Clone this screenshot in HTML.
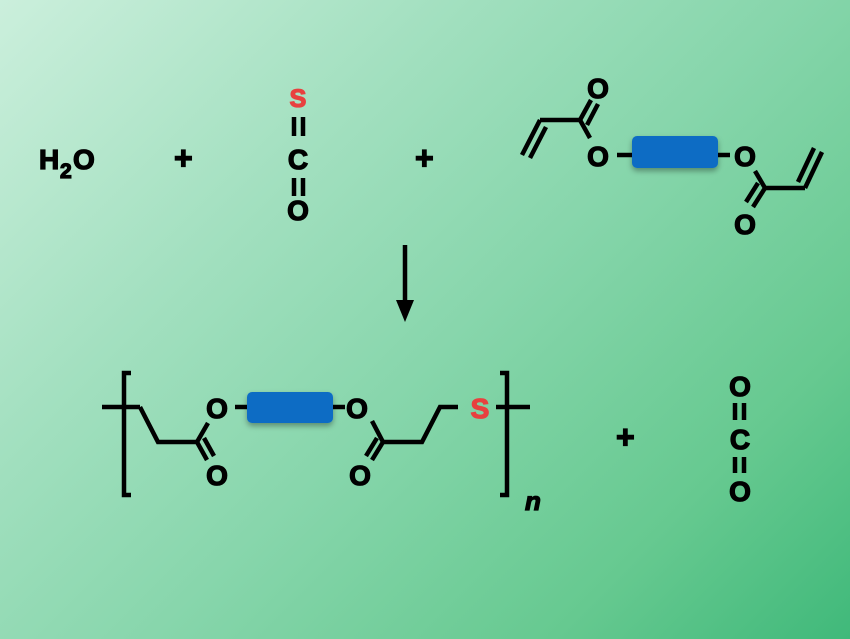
<!DOCTYPE html>
<html><head><meta charset="utf-8"><style>
html,body{margin:0;padding:0}
body{width:850px;height:639px;overflow:hidden;background:linear-gradient(135deg,#cbefdc 0%,#a3e0c0 30%,#85d5aa 55%,#66c990 80%,#40b97a 100%)}
svg{display:block}
text{font-family:"Liberation Sans",sans-serif;font-weight:bold;font-size:28px;fill:#000;stroke:#000;stroke-width:1.3px}
</style></head><body>
<svg width="850" height="639" viewBox="0 0 850 639">
<defs><filter id="sh" x="-20%" y="-30%" width="140%" height="170%"><feDropShadow dx="0" dy="3" stdDeviation="3" flood-opacity="0.35"/></filter></defs>
<g stroke="#000" stroke-width="4.5" fill="none" stroke-linecap="butt">
<line x1="294" y1="117" x2="294" y2="136"/><line x1="303" y1="117" x2="303" y2="136"/>
<line x1="294" y1="178" x2="294" y2="196"/><line x1="303" y1="178" x2="303" y2="196"/>
<line x1="522" y1="155" x2="540" y2="120"/><line x1="530" y1="158" x2="546" y2="127"/>
<line x1="540" y1="120" x2="580" y2="120"/>
<line x1="580" y1="120" x2="591" y2="100"/><line x1="587" y1="125" x2="598" y2="104"/>
<line x1="580" y1="120" x2="590" y2="138"/>
<line x1="617" y1="155" x2="634" y2="155"/>
<line x1="716" y1="155" x2="730" y2="155"/>
<line x1="755" y1="171" x2="765" y2="188"/>
<line x1="765" y1="188" x2="753" y2="207"/><line x1="758" y1="183" x2="746" y2="202"/>
<line x1="765" y1="188" x2="805" y2="188"/>
<line x1="805" y1="188" x2="822" y2="152"/><line x1="798" y1="182" x2="814" y2="148"/>
<line x1="405" y1="245" x2="405" y2="305"/>
<polyline points="131,373 124,373 124,495 131,495"/>
<line x1="102" y1="407" x2="140" y2="407"/>
<polyline points="140,407 158,442 197,442"/>
<line x1="197" y1="442" x2="208" y2="423"/>
<line x1="197" y1="442" x2="207" y2="460"/><line x1="204" y1="438" x2="214" y2="456"/>
<line x1="235" y1="407" x2="249" y2="407"/>
<line x1="331" y1="407" x2="345" y2="407"/>
<line x1="372" y1="421" x2="383" y2="442"/>
<line x1="383" y1="442" x2="372" y2="460"/><line x1="377" y1="438" x2="366" y2="456"/>
<polyline points="383,442 422,442 440,407 458,407"/>
<line x1="496" y1="407" x2="530" y2="407"/>
<polyline points="500,373 507,373 507,495 500,495"/>
<line x1="735" y1="403" x2="735" y2="420"/><line x1="744" y1="403" x2="744" y2="420"/>
<line x1="735" y1="457" x2="735" y2="473"/><line x1="744" y1="457" x2="744" y2="473"/>
</g>
<polygon points="396,300 414,300 405,322" fill="#000"/>
<rect x="632" y="136" width="86" height="32" rx="5" fill="#0b6cc4" filter="url(#sh)"/>
<rect x="247" y="392" width="86" height="31" rx="5" fill="#0b6cc4" filter="url(#sh)"/>
<text x="39" y="169">H</text><text x="60" y="178" style="font-size:21px">2</text><text x="73" y="169">O</text>
<text x="174" y="169" style="font-size:32px">+</text>
<text x="298" y="107" text-anchor="middle" style="fill:#e8413f;stroke:#e8413f;font-size:25px">S</text>
<text x="298" y="169" text-anchor="middle">C</text>
<text x="298" y="220" text-anchor="middle">O</text>
<text x="415" y="169" style="font-size:32px">+</text>
<text x="598" y="98" text-anchor="middle">O</text>
<text x="598" y="166" text-anchor="middle">O</text>
<text x="745" y="166" text-anchor="middle">O</text>
<text x="745" y="234" text-anchor="middle">O</text>
<text x="217" y="418" text-anchor="middle">O</text>
<text x="217" y="485" text-anchor="middle">O</text>
<text x="357" y="418" text-anchor="middle">O</text>
<text x="360" y="485" text-anchor="middle">O</text>
<text x="480" y="418" text-anchor="middle" style="fill:#e8413f;stroke:#e8413f">S</text>
<text x="525" y="510" style="font-style:italic;font-size:26px">n</text>
<text x="616" y="448" style="font-size:32px">+</text>
<text x="740" y="396" text-anchor="middle">O</text>
<text x="740" y="449" text-anchor="middle">C</text>
<text x="740" y="501" text-anchor="middle">O</text>
</svg>
</body></html>
